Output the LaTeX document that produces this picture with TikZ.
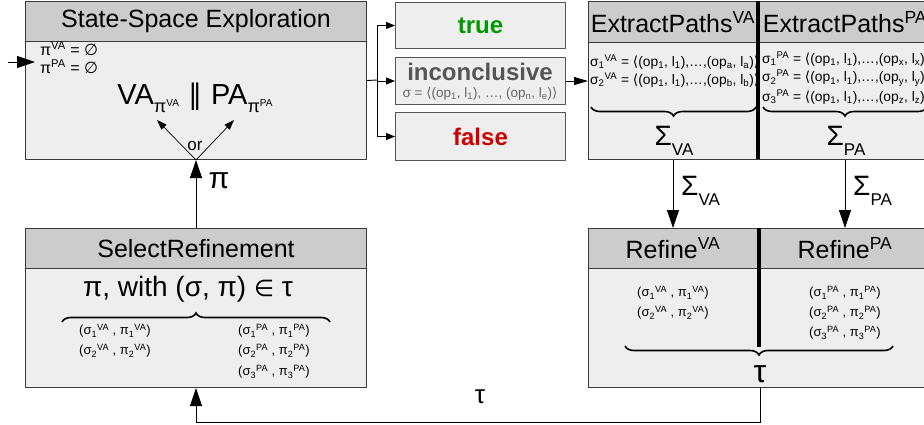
\documentclass[tikz,border=0pt]{standalone}
\usepackage{fontspec}
\setmainfont{Liberation Sans}
\newfontfamily\symf{DejaVu Sans}
\usetikzlibrary{arrows.meta,decorations.pathreplacing}

\definecolor{hdrc}{HTML}{CCCCCC}
\definecolor{bodyc}{HTML}{EEEEEE}
\definecolor{linec}{HTML}{3A3A3A}
\definecolor{truec}{HTML}{009A00}
\definecolor{falsec}{HTML}{CC0000}
\definecolor{incc}{HTML}{555555}
\definecolor{seqc}{HTML}{666666}

\newcommand\fs[1]{\fontsize{#1}{#1}\selectfont}
\newcommand\upx[1]{\textsuperscript{#1}}
\newcommand\dnx[1]{\textsubscript{#1}}
\newcommand\es{{\symf ∅}}
\newcommand\lang{{\symf ⟨}}
\newcommand\rang{{\symf ⟩}}
\newcommand\sigx[2]{σ\dnx{#1}\upx{#2}}
\newcommand\pairx[2]{(σ\dnx{#1}\upx{#2} , π\dnx{#1}\upx{#2})}
\newcommand\tracex[3]{\sigx{#1}{#2} = \lang(op\dnx{1}, l\dnx{1}),…,(op\dnx{#3}, l\dnx{#3})\rang}
\newcommand\bigsig[1]{{\fs{28}Σ}\raisebox{-10pt}{\fs{17}#1}}
\newcommand\subpi[1]{\raisebox{-8pt}{\fs{18}π\raisebox{6pt}{\fs{10}#1}}}

\tikzset{
  box/.style={draw=linec, fill=bodyc, line width=1pt, inner sep=0pt, anchor=north west},
  hdr/.style={box, fill=hdrc, font=\fs{25}},
  res/.style={box, draw=incc},
  txt/.style={inner sep=0pt},
  conn/.style={draw=black, line width=0.9pt},
  bigarr/.style={conn, -{Triangle[length=18pt,width=12pt]}},
  midarr/.style={conn, -{Triangle[length=14pt,width=8pt]}},
  smallarr/.style={conn, -{Triangle[length=9pt,width=7pt]}},
  orarr/.style={draw=black, line width=0.7pt, -{Triangle[length=10pt,width=7pt]}},
  divider/.style={draw=black, line width=3.5pt},
  brace/.style={draw=black, line width=1.6pt, decorate, decoration={brace, amplitude=9pt}},
}

\begin{document}
\begin{tikzpicture}[x=1pt, y=-1pt]
\clip (0,0) rectangle (924,424);
\fill[white] (0,0) rectangle (924,424);

% State-space exploration
\node[box, minimum width=341, minimum height=158] (sse) at (25,1) {};
\node[hdr, minimum width=341, minimum height=40] (sseh) at (25,1) {State-Space Exploration};
\node[txt, anchor=west, font=\fs{16}] (pva) at (40,49) {π\upx{VA} = \es};
\node[txt, anchor=west, font=\fs{16}] (ppa) at (40,67) {π\upx{PA} = \es};
\node[txt, anchor=base] (prod) at (195,104)
  {{\fs{29}VA}\subpi{VA}\hspace{9pt}{\symf\fs{28}∥}\hspace{9pt}{\fs{29}PA}\subpi{PA}};
\node[txt, font=\fs{17}] (or) at (195,146) {or};

% Verdicts
\node[res, minimum width=170, minimum height=46] (true) at (395,2) {};
\node[txt, font=\fs{24}\bfseries, text=truec] (truet) at (true.center) {true};
\node[res, minimum width=170, minimum height=47] (inc) at (395,57) {};
\node[txt, font=\fs{24}\bfseries, text=incc] (inct) at (480,72) {inconclusive};
\node[txt, font=\fs{13.5}, text=seqc] (incs) at (480,94) {σ = \lang(op\dnx{1}, l\dnx{1}), …, (op\dnx{n}, l\dnx{e})\rang};
\node[res, minimum width=170, minimum height=48] (false) at (395,112) {};
\node[txt, font=\fs{24}\bfseries, text=falsec] (falset) at (false.center) {false};

% Path extraction
\node[box, minimum width=345, minimum height=158] (ep) at (588,1) {};
\node[hdr, minimum width=345, minimum height=41] (eph) at (588,1) {};
\draw[divider] (758,1) -- (758,159);
\node[txt, font=\fs{25}] (epva) at (673,22) {ExtractPaths\upx{VA}};
\node[txt, font=\fs{25}] (eppa) at (845,22) {ExtractPaths\upx{PA}};
\node[txt, anchor=west, font=\fs{13.8}] (e1) at (590,62) {\tracex{1}{VA}{a}};
\node[txt, anchor=west, font=\fs{13.8}] (e2) at (590,80) {\tracex{2}{VA}{b}};
\node[txt, anchor=west, font=\fs{13.8}] (e3) at (762,59) {\tracex{1}{PA}{x}};
\node[txt, anchor=west, font=\fs{13.8}] (e4) at (762,78) {\tracex{2}{PA}{y}};
\node[txt, anchor=west, font=\fs{13.8}] (e5) at (762,97) {\tracex{3}{PA}{z}};
\draw[brace, decoration={mirror}] (591,107) -- (756,107);
\draw[brace, decoration={mirror}] (763,107) -- (927,107);
\node[txt, anchor=base] (sva) at (674,145) {\bigsig{VA}};
\node[txt, anchor=base] (spa) at (846,145) {\bigsig{PA}};

% Refinement
\node[box, minimum width=345, minimum height=159] (rf) at (588,228) {};
\node[hdr, minimum width=345, minimum height=40] (rfh) at (588,228) {};
\draw[divider] (759,228) -- (759,347);
\node[txt, font=\fs{25}] (rfva) at (673,248) {Refine\upx{VA}};
\node[txt, font=\fs{25}] (rfpa) at (845,248) {Refine\upx{PA}};
\node[txt, font=\fs{13}] (r1) at (673,293) {\pairx{1}{VA}};
\node[txt, font=\fs{13}] (r2) at (673,313) {\pairx{2}{VA}};
\node[txt, font=\fs{13}] (r3) at (845,293) {\pairx{1}{PA}};
\node[txt, font=\fs{13}] (r4) at (845,313) {\pairx{2}{PA}};
\node[txt, font=\fs{13}] (r5) at (845,333) {\pairx{3}{PA}};
\draw[brace, decoration={mirror}] (625,346) -- (893,346);
\node[txt, font=\fs{32}] (tauin) at (760,374) {τ};

% Refinement selection
\node[box, minimum width=341, minimum height=159] (sr) at (25,228) {};
\node[hdr, minimum width=341, minimum height=40] (srh) at (25,228) {SelectRefinement};
\node[txt, font=\fs{28}] (sel) at (188,289) {π, with (σ, π) {\symf\fs{23}∈} τ};
\draw[brace] (62,322) -- (330,322);
\node[txt, font=\fs{13}] (s1) at (115,331) {\pairx{1}{VA}};
\node[txt, font=\fs{13}] (s2) at (115,351) {\pairx{2}{VA}};
\node[txt, font=\fs{13}] (s3) at (274,331) {\pairx{1}{PA}};
\node[txt, font=\fs{13}] (s4) at (274,351) {\pairx{2}{PA}};
\node[txt, font=\fs{13}] (s5) at (274,372) {\pairx{3}{PA}};

% Connectors
\coordinate (start) at (8,62);
\coordinate (entry) at (35,62);
\draw[bigarr] (start) -- (entry);
\coordinate (fork) at (377,80);
\draw[conn] (sse.east) -- (fork);
\draw[conn] (fork |- true.west) -- (fork |- false.west);
\draw[smallarr] (fork |- true.west) -- (true.west);
\draw[smallarr] (fork |- inc.west) -- (inc.west);
\draw[smallarr] (fork |- false.west) -- (false.west);
\draw[midarr] (inc.east) -- (inc.east -| ep.west);

\coordinate (cva) at (673,0);
\coordinate (cpa) at (845,0);
\draw[bigarr] (cva |- ep.south) -- (cva |- rf.north);
\draw[bigarr] (cpa |- ep.south) -- (cpa |- rf.north);
\node[txt, anchor=base west] (lva) at (681,195) {\bigsig{VA}};
\node[txt, anchor=base west] (lpa) at (853,195) {\bigsig{PA}};

\coordinate (ctau) at (760,0);
\draw[bigarr] (ctau |- rf.south) -- ++(0,34) -| (sr.south);
\node[txt, font=\fs{26}] (taul) at (480,397) {τ};

\draw[bigarr] (sr.north) -- (sse.south);
\node[txt, font=\fs{30}] (pil) at (219,181) {π};

\coordinate (orl) at (157,120);
\coordinate (orr) at (234,120);
\draw[orarr] (sse.south) -- (orl);
\draw[orarr] (sse.south) -- (orr);
\end{tikzpicture}
\end{document}
